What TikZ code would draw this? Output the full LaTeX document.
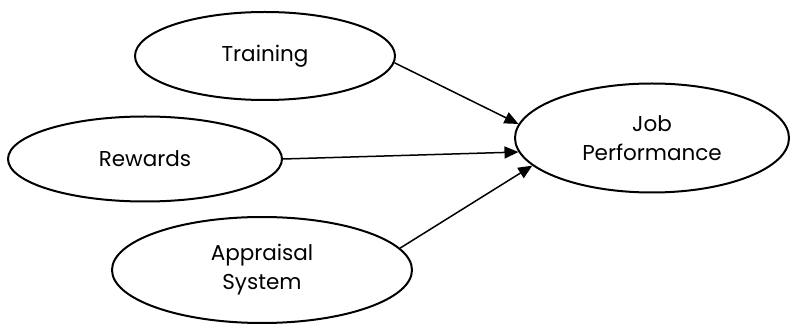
\documentclass[tikz,border=0pt]{standalone}
\usepackage{fontspec}
\setmainfont{Poppins}
\usetikzlibrary{shapes.geometric,arrows.meta}
\begin{document}
\begin{tikzpicture}[x=1pt,y=1pt,
  oval/.style={ellipse,draw,line width=2pt,inner sep=0pt,align=center,
    font=\fontsize{21.5}{29}\selectfont},
  arr/.style={line width=1.5pt,-{Triangle[length=14pt,width=12pt]}}]
\useasboundingbox (0,0) rectangle (792,324);
\node[oval,minimum width=260,minimum height=88] (train) at (265,268) {Training};
\node[oval,minimum width=274,minimum height=85] (rew) at (145,165) {Rewards};
\node[oval,minimum width=300,minimum height=106] (appr) at (262,54) {Appraisal\\System};
\node[oval,minimum width=274,minimum height=109] (job) at (652,186) {Job\\Performance};
\draw[arr] (train.-3) -- (job.174);
\draw[arr] (rew.east) -- (job.186);
\draw[arr] (appr.9) -- (job.193);
\end{tikzpicture}
\end{document}
